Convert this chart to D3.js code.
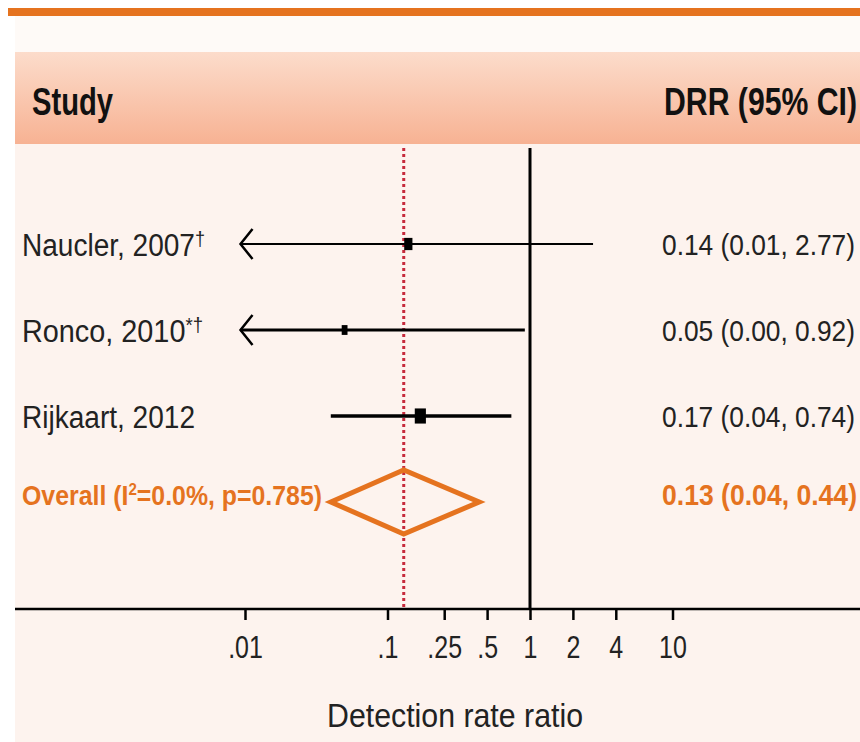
<!DOCTYPE html>
<html>
<head>
<meta charset="utf-8">
<script src="https://cdn.jsdelivr.net/npm/d3@7"></script>
<style>
  body { margin: 0; background: #fff; }
  svg { display: block; font-family: "Liberation Sans Narrow", "Liberation Sans", Arial, sans-serif; }
</style>
</head>
<body>
<div id="chart"></div>
<script>
// data
const studies = ['Naucler, 2007', 'Ronco, 2010', 'Rijkaart, 2012'];
const studyMarks = ['\u2020', '*\u2020', ''];
const drr = [0.14, 0.05, 0.17];
const ciLow = [0.006, 0.003, 0.04];     // below display floor -> arrow
const ciHigh = [2.77, 0.92, 0.74];
const weights = [30, 15, 55];
const drrText = ['0.14 (0.01, 2.77)', '0.05 (0.00, 0.92)', '0.17 (0.04, 0.74)'];

const overallLabel = 'Overall';
const overallDrr = 0.13;
const overallLow = 0.04;
const overallHigh = 0.44;
const overallText = '0.13 (0.04, 0.44)';

const tickValues = [0.01, 0.1, 0.25, 0.5, 1, 2, 4, 10];
const tickLabels = ['.01', '.1', '.25', '.5', '1', '2', '4', '10'];
const displayFloor = 0.0093;

const width = 860, height = 742;
const orange = '#e5731f';
const axisY = 609;

const svg = d3.select('#chart').append('svg')
  .attr('width', width).attr('height', height);

// gradient for header band
const defs = svg.append('defs');
const grad = defs.append('linearGradient').attr('id', 'hdr')
  .attr('x1', 0).attr('y1', 0).attr('x2', 0).attr('y2', 1);
grad.append('stop').attr('offset', '0%').attr('stop-color', '#fcdccb');
grad.append('stop').attr('offset', '100%').attr('stop-color', '#f7b293');

// background panels
svg.append('rect').attr('width', width).attr('height', height).attr('fill', '#fff');
svg.append('rect').attr('x', 15).attr('y', 16).attr('width', width - 15).attr('height', height - 16)
  .attr('fill', '#fdf3ee');
svg.append('rect').attr('x', 15).attr('y', 16).attr('width', width - 15).attr('height', 36)
  .attr('fill', '#fefaf7');
svg.append('rect').attr('x', 8).attr('y', 8).attr('width', width - 8).attr('height', 8)
  .attr('fill', orange);
svg.append('rect').attr('x', 15).attr('y', 52).attr('width', width - 15).attr('height', 92)
  .attr('fill', 'url(#hdr)');

// squeeze text to a target width
function fit(sel, w) {
  sel.attr('textLength', w).attr('lengthAdjust', 'spacingAndGlyphs');
  return sel;
}

// header
fit(svg.append('text').attr('x', 32).attr('y', 115)
  .attr('font-size', 38).attr('font-weight', 'bold').attr('fill', '#111')
  .text('Study'), 81);
fit(svg.append('text').attr('x', 664).attr('y', 115)
  .attr('font-size', 38).attr('font-weight', 'bold').attr('fill', '#111')
  .text('DRR (95% CI)'), 193);

// scales
const xScale = d3.scaleLog().domain([0.01, 10]).range([245, 672.5]);
const yScale = d3.scalePoint().domain([...studies, overallLabel]).range([244, 502]);

// reference lines
svg.append('line')
  .attr('x1', xScale(1)).attr('x2', xScale(1))
  .attr('y1', 148).attr('y2', axisY)
  .attr('stroke', '#000').attr('stroke-width', 3);
svg.append('line')
  .attr('x1', xScale(overallDrr)).attr('x2', xScale(overallDrr))
  .attr('y1', 148).attr('y2', axisY)
  .attr('stroke', '#c62a3c').attr('stroke-width', 3)
  .attr('stroke-dasharray', '3,3');

// x axis
svg.append('line').attr('x1', 15).attr('x2', width)
  .attr('y1', axisY).attr('y2', axisY)
  .attr('stroke', '#000').attr('stroke-width', 2.5);
const xAxis = d3.axisBottom(xScale)
  .tickValues(tickValues)
  .tickFormat((d, i) => tickLabels[i])
  .tickSize(11).tickSizeOuter(0).tickPadding(15);
const gx = svg.append('g')
  .attr('transform', 'translate(0,' + axisY + ')')
  .call(xAxis);
gx.select('.domain').remove();
gx.selectAll('.tick line').attr('stroke', '#000').attr('stroke-width', 2.5);
gx.selectAll('.tick text')
  .attr('font-size', 32).attr('fill', '#222')
  .attr('font-family', '"Liberation Sans Narrow", "Liberation Sans", Arial, sans-serif')
  .each(function () {
    const len = this.getComputedTextLength();
    d3.select(this).attr('textLength', len * 0.78).attr('lengthAdjust', 'spacingAndGlyphs');
  });

fit(svg.append('text').attr('x', 327).attr('y', 727)
  .attr('font-size', 33).attr('fill', '#222')
  .text('Detection rate ratio'), 256);

// study rows
const ciStroke = [2, 3, 3.5];
const labelW = [183, 181, 173];

studies.forEach((s, i) => {
  const y = yScale(s);
  const lo = Math.max(ciLow[i], displayFloor);
  svg.append('line')
    .attr('x1', xScale(lo)).attr('x2', xScale(ciHigh[i]))
    .attr('y1', y).attr('y2', y)
    .attr('stroke', '#000').attr('stroke-width', ciStroke[i]);
  if (ciLow[i] < displayFloor) {
    const ax = xScale(displayFloor);
    svg.append('path')
      .attr('d', d3.line()([[ax + 12, y - 15], [ax, y], [ax + 12, y + 15]]))
      .attr('fill', 'none').attr('stroke', '#000').attr('stroke-width', 2.5);
  }
  const sz = 1.5 * Math.sqrt(weights[i]);
  svg.append('rect')
    .attr('x', xScale(drr[i]) - sz / 2).attr('y', y - sz / 2 - 2)
    .attr('width', sz).attr('height', sz + 4)
    .attr('fill', '#000');

  const t = svg.append('text').attr('x', 22).attr('y', y + 12)
    .attr('font-size', 31).attr('fill', '#222');
  t.append('tspan').text(s);
  if (studyMarks[i]) {
    t.append('tspan').attr('font-size', 20).attr('dy', -10).text(studyMarks[i]);
  }
  fit(t, labelW[i]);

  fit(svg.append('text').attr('x', 662).attr('y', y + 11)
    .attr('font-size', 30).attr('fill', '#222')
    .text(drrText[i]), 193);
});

// overall row
const oy = yScale(overallLabel);
svg.append('polygon')
  .attr('points', [
    [xScale(overallLow), oy],
    [xScale(overallDrr), oy - 32],
    [xScale(overallHigh), oy],
    [xScale(overallDrr), oy + 32]
  ].map(p => p.join(',')).join(' '))
  .attr('fill', 'none').attr('stroke', orange).attr('stroke-width', 5)
  .attr('stroke-linejoin', 'miter');

const ot = svg.append('text').attr('x', 22).attr('y', oy + 3)
  .attr('font-size', 28).attr('font-weight', 'bold').attr('fill', orange);
ot.append('tspan').text('Overall (I');
ot.append('tspan').attr('font-size', 17).attr('dy', -10).text('2');
ot.append('tspan').attr('dy', 10).text('=0.0%, p=0.785)');
fit(ot, 300);

fit(svg.append('text').attr('x', 662).attr('y', oy + 3)
  .attr('font-size', 29).attr('font-weight', 'bold').attr('fill', orange)
  .text(overallText), 195);
</script>
</body>
</html>
